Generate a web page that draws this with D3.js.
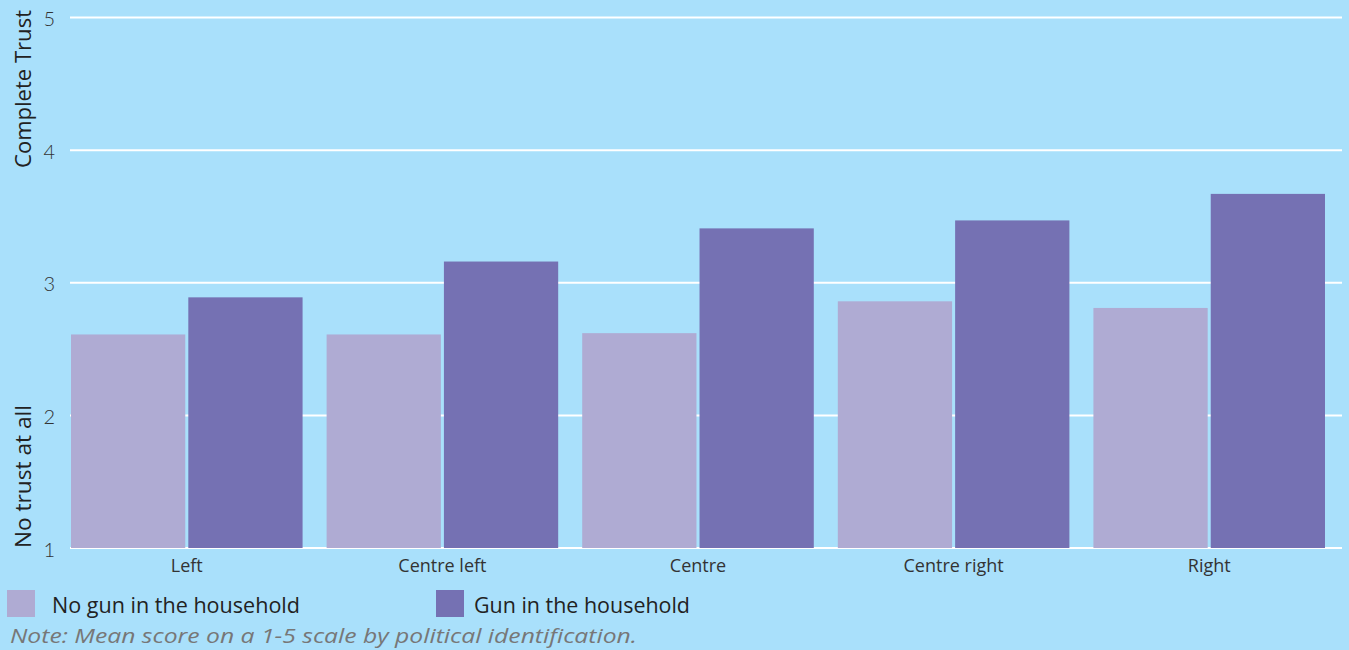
<!DOCTYPE html>
<html><head><meta charset="utf-8">
<script src="https://cdn.jsdelivr.net/npm/d3@7"></script>
<style>html,body{margin:0;padding:0;background:#a9e0fb;overflow:hidden}</style>
</head><body><svg id="c" width="1349" height="650"></svg>
<script>
const categories = ["Left", "Centre left", "Centre", "Centre right", "Right"];
const seriesNames = ["No gun in the household", "Gun in the household"];
const noGun = [2.61, 2.61, 2.62, 2.86, 2.81];
const gun = [2.89, 3.16, 3.41, 3.47, 3.67];
const yTicks = [1, 2, 3, 4, 5];
const colors = ["#afabd3", "#7571b3"];
const note = "Note: Mean score on a 1-5 scale by political identification.";

const svg = d3.select("#c");
svg.append("rect").attr("width",1349).attr("height",650).attr("fill","#a9e0fb");

const y = d3.scaleLinear().domain([1,5]).range([548,17.5]);
const x0 = d3.scaleBand().domain(categories).range([71,1325]).paddingInner(0.094).paddingOuter(0);
const x1 = d3.scaleBand().domain(seriesNames).range([0,x0.bandwidth()]).paddingInner(0.026);

// gridlines
svg.append("g").selectAll("line").data(yTicks).join("line")
  .attr("x1",70).attr("x2",1342).attr("y1",d=>y(d)).attr("y2",d=>y(d))
  .attr("stroke","#fff").attr("stroke-width",2);

// bars
const data = categories.map((c,i)=>({cat:c, vals:[noGun[i], gun[i]]}));
const g = svg.append("g").selectAll("g").data(data).join("g")
  .attr("transform",d=>`translate(${x0(d.cat)},0)`);
g.selectAll("rect").data(d=>d.vals.map((v,j)=>({s:seriesNames[j], v, j}))).join("rect")
  .attr("x",d=>x1(d.s)).attr("width",x1.bandwidth())
  .attr("y",d=>y(d.v)).attr("height",d=>y(1)-y(d.v))
  .attr("fill",d=>colors[d.j]);

// y tick labels
const yAxis = d3.axisLeft(y).tickValues(yTicks).tickFormat(d3.format("d")).tickSize(0).tickPadding(0);
const ya = svg.append("g").attr("transform","translate(55,0)").call(yAxis);
ya.select(".domain").remove();
ya.selectAll("text").attr("font-family","Lato, sans-serif").attr("font-weight",300)
  .attr("font-size",20).attr("fill","#333").attr("dy","0.4em");

// x axis labels
const xAxis = d3.axisBottom(x0).tickSize(0).tickPadding(0);
const xa = svg.append("g").attr("transform","translate(0,558)").call(xAxis);
xa.select(".domain").remove();
xa.selectAll("text").attr("font-family","'Open Sans', sans-serif").attr("font-size",18)
  .attr("fill","#333").attr("dy","0.75em");

// y titles
svg.append("text").attr("transform","translate(31,168) rotate(-90)")
  .attr("font-family","'Open Sans', sans-serif").attr("font-size",21).attr("fill","#222")
  .attr("textLength",158).attr("lengthAdjust","spacingAndGlyphs")
  .text("Complete Trust");
svg.append("text").attr("transform","translate(31,548) rotate(-90)")
  .attr("font-family","'Open Sans', sans-serif").attr("font-size",21).attr("fill","#222")
  .attr("textLength",143).attr("lengthAdjust","spacingAndGlyphs")
  .text("No trust at all");

// legend
const legX = [7, 436];
const leg = svg.append("g").selectAll("g").data(seriesNames).join("g")
  .attr("transform",(d,i)=>`translate(${legX[i]},590)`);
leg.append("rect").attr("width",28).attr("height",27).attr("fill",(d,i)=>colors[i]);
leg.append("text").attr("x",(d,i)=>i===0?45:38).attr("y",23)
  .attr("font-family","'Open Sans', sans-serif").attr("font-size",21).attr("fill","#222")
  .attr("textLength",(d,i)=>i===0?248:216).attr("lengthAdjust","spacingAndGlyphs")
  .text(d=>d);

svg.append("text").attr("x",10).attr("y",643)
  .attr("font-family","'Open Sans', sans-serif").attr("font-style","italic")
  .attr("font-size",20).attr("fill","#777")
  .attr("textLength",627).attr("lengthAdjust","spacingAndGlyphs")
  .text(note);
</script></body></html>
